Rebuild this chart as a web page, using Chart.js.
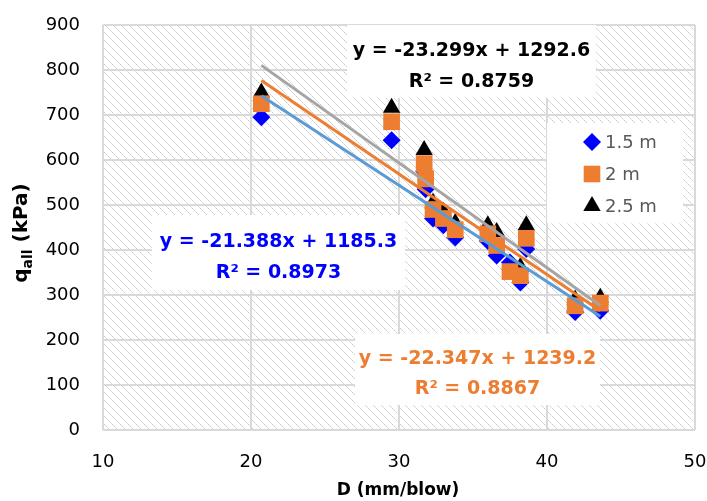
<!DOCTYPE html>
<html lang="en">
<head>
<meta charset="UTF-8">
<title>Allowable bearing capacity vs DCP penetration index</title>
<script src="https://cdn.jsdelivr.net/npm/chart.js"></script>
<style>
  html, body { margin: 0; padding: 0; background: #fff; }
  #wrap { width: 707px; height: 501px; }
</style>
</head>
<body>
<div id="wrap"><canvas id="qallChart" width="707" height="501"></canvas></div>
<script>
  // DCP penetration index, mm/blow
  const penetration = [20.7, 29.5, 31.7, 31.8, 32.3, 33.0, 33.8, 36.0, 36.6, 37.5, 38.2, 38.6, 41.9, 43.6];
  // allowable bearing capacity (kPa) at each footing depth
  const qall15 = [695, 644, 575, 535, 470, 455, 428, 420, 388, 372, 328, 402, 262, 265];
  const qall20 = [725, 685, 592, 558, 490, 470, 445, 436, 410, 352, 343, 426, 276, 282];
  const qall25 = [750, 716, 622, 578, 505, 485, 460, 455, 440, 368, 362, 455, 290, 294];

  const seriesNames = ['1.5 m', '2 m', '2.5 m'];
  const seriesColors = ['#0000ff', '#ed7d31', '#000000'];
  const trendColors = ['#5b9bd5', '#ed7d31', '#a5a5a5'];
  const trendSlope = [-21.388, -22.347, -23.299];
  const trendIntercept = [1185.3, 1239.2, 1292.6];
  const trendR2 = ['0.8973', '0.8867', '0.8759'];

  const xTicks = [10, 20, 30, 40, 50];
  const yTicks = [0, 100, 200, 300, 400, 500, 600, 700, 800, 900];

  const FONT = "'DejaVu Sans', sans-serif";

  // light downward-diagonal fill for the plot area
  function makeHatch(ctx) {
    const c = document.createElement('canvas');
    c.width = 8; c.height = 8;
    const g = c.getContext('2d');
    for (let i = 0; i < 8; i++) {
      g.fillStyle = i % 2 ? '#e4e4e4' : '#c8c8c8';
      g.fillRect(i, i, 1, 1);
    }
    return ctx.createPattern(c, 'repeat');
  }

  function trendPoints(i) {
    const x0 = Math.min(...penetration), x1 = Math.max(...penetration);
    return [x0, x1].map(x => ({ x, y: trendSlope[i] * x + trendIntercept[i] }));
  }

  function toPoints(ys) {
    return penetration.map((x, i) => ({ x, y: ys[i] }));
  }

  function drawMarker(ctx, style, x, y, color) {
    ctx.fillStyle = color;
    ctx.beginPath();
    if (style === 'rectRot') {
      ctx.moveTo(x, y - 9); ctx.lineTo(x + 9, y); ctx.lineTo(x, y + 9); ctx.lineTo(x - 9, y);
    } else if (style === 'rect') {
      ctx.rect(x - 8.3, y - 8.3, 16.6, 16.6);
    } else {
      ctx.moveTo(x, y - 10); ctx.lineTo(x + 8.7, y + 5); ctx.lineTo(x - 8.7, y + 5);
    }
    ctx.closePath();
    ctx.fill();
  }

  const pointStyles = ['rectRot', 'rect', 'triangle'];

  // equation labels: [series index, box left, top, right, bottom]
  const eqBoxes = [
    [0, 152, 215, 405, 290],
    [1, 355, 334, 600, 405],
    [2, 347, 25, 596, 98]
  ];
  const eqTextColors = ['#0000ff', '#ed7d31', '#000000'];

  let hatch = null;

  const decorations = {
    id: 'decorations',
    beforeDraw(chart) {
      const { ctx, chartArea: a } = chart;
      if (!hatch) hatch = makeHatch(ctx);
      ctx.save();
      ctx.fillStyle = '#ffffff';
      ctx.fillRect(0, 0, chart.width, chart.height);
      ctx.fillStyle = hatch;
      ctx.fillRect(a.left, a.top, a.right - a.left, a.bottom - a.top);
      ctx.restore();
    },
    afterDatasetsDraw(chart) {
      const { ctx } = chart;
      ctx.save();

      // trendline equations
      eqBoxes.forEach(([s, l, t, r, b]) => {
        ctx.fillStyle = '#ffffff';
        ctx.fillRect(l, t, r - l, b - t);
        const cx = (l + r) / 2;
        const h = b - t;
        const sign = trendIntercept[s] >= 0 ? '+' : '-';
        ctx.fillStyle = eqTextColors[s];
        ctx.font = 'bold 19px ' + FONT;
        ctx.textAlign = 'center';
        ctx.textBaseline = 'middle';
        ctx.fillText('y = ' + trendSlope[s] + 'x ' + sign + ' ' + Math.abs(trendIntercept[s]), cx, t + h * 0.36);
        ctx.fillText('R² = ' + trendR2[s], cx, t + h * 0.78);
      });

      // legend
      ctx.fillStyle = '#ffffff';
      ctx.fillRect(547, 123, 136, 100);
      ctx.font = '18px ' + FONT;
      ctx.textAlign = 'left';
      ctx.textBaseline = 'middle';
      seriesNames.forEach((name, i) => {
        const y = 142 + i * 32;
        drawMarker(ctx, pointStyles[i], 592, y, seriesColors[i]);
        ctx.fillStyle = '#595959';
        ctx.fillText(name, 605, y + 1);
      });

      // axis titles
      ctx.fillStyle = '#000000';
      ctx.textBaseline = 'alphabetic';
      ctx.font = 'bold 17px ' + FONT;
      ctx.textAlign = 'center';
      ctx.fillText('D (mm/blow)', 398, 495);

      ctx.translate(27, 233);
      ctx.rotate(-Math.PI / 2);
      ctx.textAlign = 'left';
      const big = 'bold 20px ' + FONT, small = 'bold 14px ' + FONT;
      ctx.font = big; const wq = ctx.measureText('q').width;
      ctx.font = small; const ws = ctx.measureText('all').width;
      ctx.font = big; const wr = ctx.measureText(' (kPa)').width;
      let x = -(wq + ws + wr) / 2;
      ctx.font = big; ctx.fillText('q', x, 0); x += wq;
      ctx.font = small; ctx.fillText('all', x, 5); x += ws;
      ctx.font = big; ctx.fillText(' (kPa)', x, 0);
      ctx.restore();
    }
  };

  // tick label gaps come from ticks.padding; keep them out of the layout margins
  function noScalePadding(s) {
    s.paddingLeft = s.paddingRight = s.paddingTop = s.paddingBottom = 0;
  }

  const scatterSets = [qall15, qall20, qall25].map((ys, i) => ({
    label: seriesNames[i],
    data: toPoints(ys),
    showLine: false,
    pointStyle: pointStyles[i],
    pointRadius: [9, 11.8, 10][i],
    pointHoverRadius: [9, 11.8, 10][i],
    backgroundColor: seriesColors[i],
    borderColor: seriesColors[i],
    borderWidth: 0,
    order: [2, 1, 3][i]
  }));

  const trendSets = [0, 1, 2].map(i => ({
    label: 'Linear (' + seriesNames[i] + ')',
    data: trendPoints(i),
    showLine: true,
    borderColor: trendColors[i],
    borderWidth: 3,
    pointRadius: 0,
    fill: false,
    order: 0
  }));

  new Chart(document.getElementById('qallChart'), {
    type: 'scatter',
    data: { datasets: scatterSets.concat(trendSets) },
    options: {
      responsive: false,
      animation: false,
      layout: { autoPadding: false, padding: { top: 25, right: 12, left: 0, bottom: 0 } },
      plugins: {
        legend: { display: false },
        tooltip: { enabled: false }
      },
      scales: {
        x: {
          type: 'linear',
          min: xTicks[0],
          max: xTicks[xTicks.length - 1],
          afterFit: s => { s.height = 71; noScalePadding(s); },
          afterBuildTicks: s => { s.ticks = xTicks.map(v => ({ value: v })); },
          ticks: { color: '#000', font: { family: FONT, size: 18 }, padding: 22 },
          grid: { color: '#d9d9d9', lineWidth: 2, drawTicks: false },
          border: { display: false }
        },
        y: {
          type: 'linear',
          min: yTicks[0],
          max: yTicks[yTicks.length - 1],
          afterFit: s => { s.width = 103; noScalePadding(s); },
          afterBuildTicks: s => { s.ticks = yTicks.map(v => ({ value: v })); },
          ticks: { color: '#000', font: { family: FONT, size: 18 }, padding: 23 },
          grid: { color: '#d9d9d9', lineWidth: 2, drawTicks: false },
          border: { display: false }
        }
      }
    },
    plugins: [decorations]
  });
</script>
</body>
</html>
